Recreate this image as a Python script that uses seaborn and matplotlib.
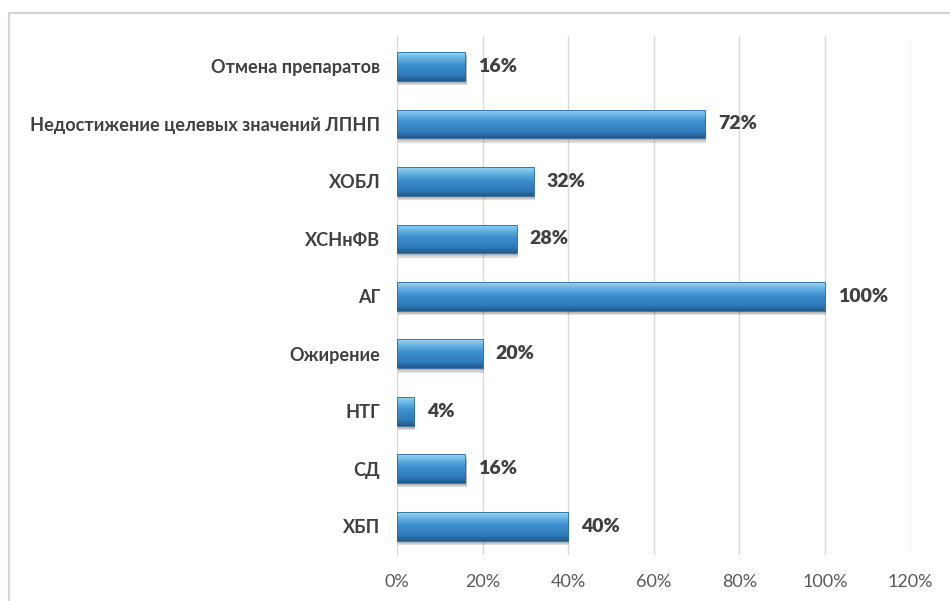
import numpy as np
import pandas as pd
import matplotlib
matplotlib.use("Agg")
import matplotlib.pyplot as plt
from matplotlib.patches import Rectangle
from matplotlib.colors import LinearSegmentedColormap
import seaborn as sns

categories = [
    "Отмена препаратов",
    "Недостижение целевых значений ЛПНП",
    "ХОБЛ",
    "ХСНнФВ",
    "АГ",
    "Ожирение",
    "НТГ",
    "СД",
    "ХБП",
]
values = [16, 72, 32, 28, 100, 20, 4, 16, 40]
x_ticks = [0, 20, 40, 60, 80, 100, 120]
x_tick_labels = ["0%", "20%", "40%", "60%", "80%", "100%", "120%"]

df = pd.DataFrame({"category": categories, "value": values})

sns.set_theme(style="white")
plt.rcParams["font.family"] = ["Lato", "DejaVu Sans"]

fig = plt.figure(figsize=(9.5, 6.01), dpi=100)
W, H = 950, 601
ax = fig.add_axes([397 / W, 1 - 555 / H, (910.6 - 397) / W, (555 - 36) / H])

# outer chart frame
fig.patches.append(Rectangle((9 / W, -0.05), 1.2, 1 - 13 / H + 0.05,
                             transform=fig.transFigure, fill=False,
                             edgecolor="#d4d4d4", linewidth=1.6, zorder=0))

sns.barplot(data=df, x="value", y="category", orient="h", width=0.5,
            color="#3a8cc8", ax=ax, zorder=3)

# glossy vertical gradient on each bar, with a soft shadow underneath
cmap = LinearSegmentedColormap.from_list(
    "bar3d", [(0.0, "#9ad6f2"), (0.18, "#6cb8e6"), (0.45, "#3d90cf"),
              (0.8, "#2f7bbb"), (1.0, "#22598a")])
grad = np.linspace(0, 1, 64).reshape(-1, 1)
for p in list(ax.patches):
    x0, y0 = p.get_x(), p.get_y()
    w, h = p.get_width(), p.get_height()
    for k, a in enumerate([0.10, 0.14, 0.18]):
        off = 0.035 + k * 0.02
        ax.add_patch(Rectangle((x0 + 0.3, y0 + off), w, h, facecolor="#404040",
                               alpha=a, edgecolor="none", zorder=2))
    im = ax.imshow(grad, cmap=cmap, aspect="auto", extent=(x0, x0 + w, y0 + h, y0),
                   zorder=4, interpolation="bilinear")
    im.set_clip_path(p)
    p.set_edgecolor("#2a6a9e")
    p.set_linewidth(0.6)
    p.set_zorder(5)
    p.set_facecolor("none")
ax.set_ylim(8.5, -0.53)
ax.set_xlim(0, 120)

# value labels
for i, v in enumerate(values):
    ax.text(v + 3.0, i, f"{v}%", va="center", ha="left", fontsize=14,
            fontweight="heavy", color="#404040", zorder=6)

ax.set_xticks(x_ticks)
ax.set_xticklabels(x_tick_labels, fontsize=13, color="#595959")
ax.tick_params(axis="y", labelsize=13.1, colors="#404040", length=0, pad=12)
for t in ax.get_yticklabels():
    t.set_fontweight("bold")
ax.tick_params(axis="x", length=0, pad=14)
ax.set_xlabel("")
ax.set_ylabel("")
ax.grid(axis="x", color="#d9d9d9", linewidth=1.0, zorder=0)
ax.set_axisbelow(True)
for s in ax.spines.values():
    s.set_visible(False)

fig.savefig("out.png", dpi=100)
